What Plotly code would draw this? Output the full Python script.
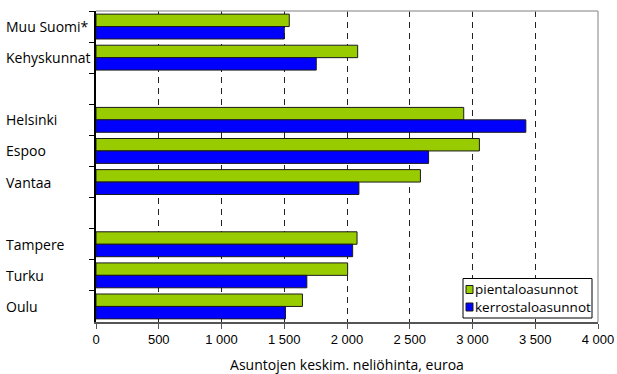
import plotly.graph_objects as go

# Category slots, top to bottom (blank strings are spacer rows)
categories = ["Muu Suomi*", "Kehyskunnat", " ", "Helsinki", "Espoo", "Vantaa",
              "  ", "Tampere", "Turku", "Oulu"]
regions = ["Muu Suomi*", "Kehyskunnat", "Helsinki", "Espoo", "Vantaa",
           "Tampere", "Turku", "Oulu"]

# Average price per square metre, euros
pientaloasunnot = [1540, 2085, 2930, 3055, 2585, 2080, 2005, 1645]
kerrostaloasunnot = [1500, 1755, 3425, 2650, 2095, 2045, 1680, 1510]

series_names = ["pientaloasunnot", "kerrostaloasunnot"]
series_colors = ["#99CC00", "#0000FF"]
x_ticks = [0, 500, 1000, 1500, 2000, 2500, 3000, 3500, 4000]
x_title = "Asuntojen keskim. neliöhinta, euroa"

W, H = 617, 374
L, R, T, B = 96, 19, 11, 52
PW, PH = W - L - R, H - T - B


def px_x(px):
    return (px - L) / PW


def px_y(py):
    return (H - B - py) / PH


label_font = dict(family="Open Sans, sans-serif", size=14, color="#000000")
legend_font = dict(family="Open Sans, sans-serif", size=13.5, color="#000000")
tick_font = dict(family="Liberation Sans, Arial, sans-serif", size=13, color="#000000")

fig = go.Figure()
for name, vals, col in zip(series_names, [pientaloasunnot, kerrostaloasunnot], series_colors):
    fig.add_trace(go.Bar(
        y=regions, x=vals, name=name, orientation="h",
        marker=dict(color=col, line=dict(color="#1a1a1a", width=1)),
        showlegend=False,
    ))

fig.update_layout(
    width=W, height=H,
    margin=dict(l=L, r=R, t=T, b=B, pad=0, autoexpand=False),
    paper_bgcolor="white", plot_bgcolor="white",
    barmode="group", bargap=0.2, bargroupgap=0,
    separators=", ",
    font=label_font,
)

fig.update_xaxes(
    range=[0, 4000], tickvals=x_ticks, tickformat=",d",
    automargin=False,
    showgrid=True, gridcolor="#222222", griddash="6px,5px", gridwidth=1,
    zeroline=False,
    showline=True, linecolor="#555555", linewidth=1.5,
    ticks="outside", ticklen=5, tickcolor="#555555",
    tickfont=tick_font,
    title=dict(text=x_title, font=label_font, standoff=14),
)
fig.update_yaxes(
    type="category", categoryorder="array", categoryarray=categories,
    autorange="reversed", automargin=False,
    showticklabels=False,
    tickson="boundaries", ticks="outside", ticklen=5, tickcolor="#000000",
    showgrid=False, zeroline=False,
    showline=True, linecolor="#000000", linewidth=1.5,
)

# Left-aligned category labels
for cat in regions:
    fig.add_annotation(
        x=px_x(4), xref="paper", y=cat, yref="y",
        text=cat, showarrow=False, xanchor="left", yanchor="middle",
        font=label_font,
    )

# Top and right frame
fig.add_shape(type="line", xref="paper", yref="paper", x0=0, x1=1, y0=1, y1=1,
              line=dict(color="#aaaaaa", width=1.5))
fig.add_shape(type="line", xref="paper", yref="paper", x0=1, x1=1, y0=0, y1=1,
              line=dict(color="#aaaaaa", width=1.5))

# Legend: frame, colour swatches and a two-line label block
row_gap = 17.5
row0 = 289.5
fig.add_shape(type="rect", xref="paper", yref="paper",
              x0=px_x(463), x1=px_x(592), y0=px_y(row0 + row_gap + 11), y1=px_y(row0 - 11),
              line=dict(color="#000000", width=1), fillcolor="white", layer="above")
for i, col in enumerate(series_colors):
    cy = row0 + i * row_gap
    fig.add_shape(type="rect", xref="paper", yref="paper",
                  x0=px_x(466), x1=px_x(473), y0=px_y(cy + 4), y1=px_y(cy - 4),
                  line=dict(color="#1a1a1a", width=1), fillcolor=col, layer="above")
fig.add_annotation(
    x=px_x(474), xref="paper", y=px_y(row0 + row_gap / 2), yref="paper",
    text="<br>".join(series_names), showarrow=False,
    xanchor="left", yanchor="middle", align="left",
    font=legend_font, borderpad=0,
)

fig.write_html("out.html")
